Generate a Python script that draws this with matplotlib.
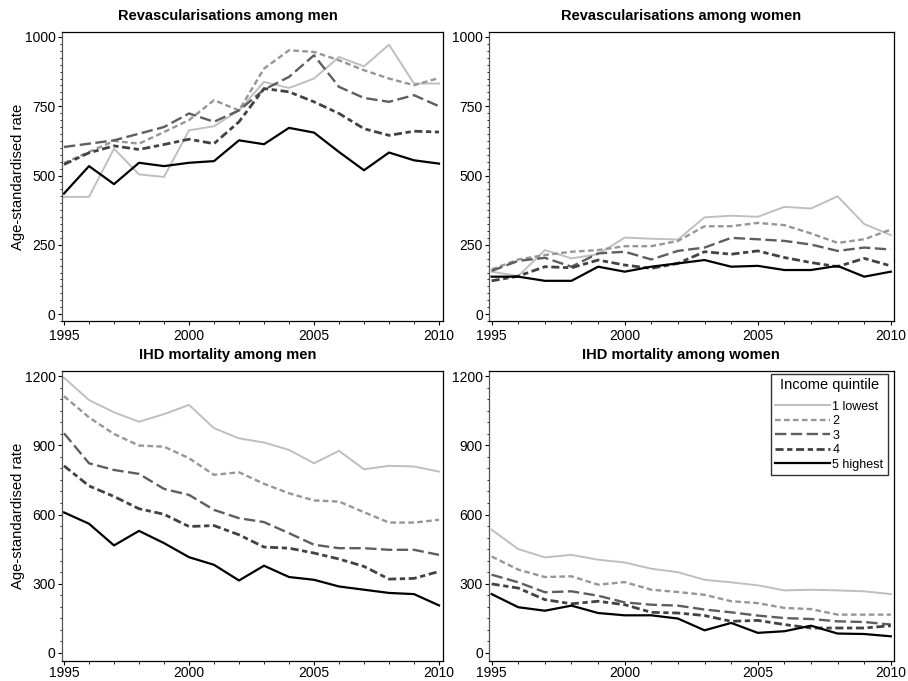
import matplotlib
matplotlib.use("Agg")
import matplotlib.pyplot as plt
from matplotlib.ticker import MultipleLocator

plt.rcParams['font.family'] = ['Liberation Sans', 'DejaVu Sans']

years = list(range(1995, 2011))
labels = ["1 lowest", "2", "3", "4", "5 highest"]

revasc_men = {
    "q1": [423, 423, 597, 504, 495, 663, 678, 735, 838, 816, 850, 928, 894, 972, 832, 832],
    "q2": [545, 585, 625, 615, 657, 700, 772, 735, 886, 952, 946, 916, 880, 850, 826, 852],
    "q3": [603, 615, 627, 651, 675, 724, 694, 735, 810, 856, 934, 820, 780, 766, 790, 750],
    "q4": [540, 582, 607, 594, 612, 631, 615, 694, 814, 802, 766, 724, 669, 645, 660, 657],
    "q5": [435, 534, 469, 546, 534, 546, 552, 627, 613, 672, 655, 585, 519, 583, 555, 543],
}
revasc_women = {
    "q1": [153, 137, 231, 201, 216, 276, 272, 269, 349, 355, 351, 387, 381, 425, 325, 285],
    "q2": [161, 197, 213, 225, 231, 245, 245, 264, 317, 317, 329, 321, 291, 257, 270, 305],
    "q3": [156, 192, 203, 171, 219, 225, 197, 228, 240, 275, 270, 264, 251, 228, 240, 233],
    "q4": [120, 137, 171, 167, 195, 177, 165, 183, 225, 216, 228, 204, 186, 171, 201, 174],
    "q5": [135, 135, 120, 120, 171, 153, 171, 183, 195, 171, 174, 159, 159, 174, 135, 153],
}
ihd_men = {
    "q1": [1193, 1096, 1043, 1002, 1035, 1075, 974, 930, 912, 880, 822, 876, 796, 811, 808, 786],
    "q2": [1113, 1021, 949, 899, 894, 844, 772, 783, 733, 692, 661, 656, 610, 565, 565, 577],
    "q3": [952, 822, 793, 776, 711, 685, 620, 584, 567, 519, 469, 454, 454, 447, 447, 425],
    "q4": [811, 724, 678, 625, 601, 548, 552, 512, 459, 454, 433, 407, 375, 320, 323, 353],
    "q5": [609, 560, 466, 529, 476, 415, 382, 314, 378, 329, 317, 288, 274, 260, 255, 206],
}
ihd_women = {
    "q1": [534, 450, 414, 425, 404, 392, 365, 350, 317, 306, 293, 271, 274, 271, 267, 255],
    "q2": [418, 361, 329, 332, 296, 307, 274, 264, 252, 224, 216, 195, 190, 166, 166, 166],
    "q3": [339, 306, 263, 267, 248, 219, 209, 205, 188, 176, 162, 151, 147, 137, 134, 123],
    "q4": [299, 281, 231, 213, 224, 209, 176, 173, 162, 137, 141, 123, 108, 108, 108, 118],
    "q5": [255, 198, 183, 205, 173, 163, 163, 149, 98, 130, 87, 94, 118, 84, 82, 72],
}

styles = [
    dict(color="#bfbfbf", lw=1.4, ls="-"),
    dict(color="#969696", lw=1.7, ls=(0, (2.4, 1.4))),
    dict(color="#5e5e5e", lw=1.7, ls=(0, (4.8, 1.9))),
    dict(color="#424242", lw=2.0, ls=(0, (2.9, 1.3, 1.9, 1.3))),
    dict(color="#000000", lw=1.6, ls="-"),
]

fig = plt.figure(figsize=(9.08, 6.81), dpi=100)
W, H = 908, 681

def make_ax(l, r, t, b):
    return fig.add_axes([l / W, 1 - b / H, (r - l) / W, (b - t) / H])

axes = [
    (make_ax(62, 443, 32, 321), revasc_men, "Revascularisations among men", (-25, 1018), 250, 25, True, 0.436, (1994.92, 2010.16), 2.5),
    (make_ax(489, 894, 32, 321), revasc_women, "Revascularisations among women", (-25, 1018), 250, 25, False, 0.474, (1994.9, 2010.12), 2.5),
    (make_ax(62, 443, 371, 661), ihd_men, "IHD mortality among men", (-35, 1222), 300, 50, True, 0.436, (1994.92, 2010.16), 0.8),
    (make_ax(489, 894, 371, 661), ihd_women, "IHD mortality among women", (-35, 1222), 300, 50, False, 0.474, (1994.9, 2010.12), 0.8),
]

for ax, data, title, ylim, major, minor, ylab, tx, xlim, xpad in axes:
    for i, key in enumerate(["q1", "q2", "q3", "q4", "q5"]):
        ax.plot(years, data[key], label=labels[i], **styles[i])
    ax.set_xlim(*xlim)
    ax.set_ylim(*ylim)
    ax.set_xticks([1995, 2000, 2005, 2010])
    ax.xaxis.set_minor_locator(MultipleLocator(1))
    ax.yaxis.set_major_locator(MultipleLocator(major))
    ax.yaxis.set_minor_locator(MultipleLocator(minor))
    ax.tick_params(axis="both", which="major", labelsize=10, length=3, width=0.8, direction="out")
    ax.tick_params(axis="y", which="major", pad=1.5)
    ax.tick_params(axis="x", which="major", pad=xpad)
    ax.tick_params(axis="both", which="minor", length=1.8, width=0.6, direction="out")
    ax.set_title(title, fontsize=10.5, fontweight="bold", pad=8.5, x=tx)
    for s in ax.spines.values():
        s.set_linewidth(0.9)
    ax.spines["left"].set_color("#555555")
    if ylab:
        ax.set_ylabel("Age-standardised rate", fontsize=10.7)
        ax.yaxis.set_label_coords((25 - 62) / 381, 0.5)

leg_ax = axes[3][0]
leg = leg_ax.legend(title="Income quintile", loc="upper right", fontsize=9, title_fontsize=10.5,
                    handlelength=4.4, handletextpad=0.2, labelspacing=0.2, borderpad=0.35,
                    fancybox=False, edgecolor="#333333", framealpha=1,
                    bbox_to_anchor=(0.985, 0.99), borderaxespad=0)
leg.get_frame().set_linewidth(1.0)
leg._legend_box.sep = 6

fig.savefig("out.png", dpi=100)
